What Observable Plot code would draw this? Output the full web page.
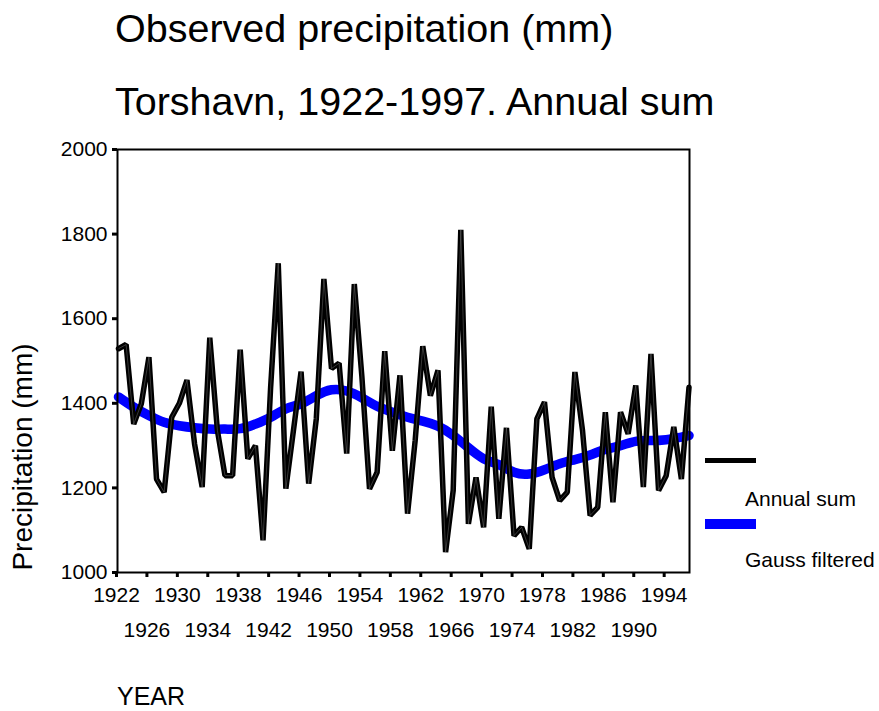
<!DOCTYPE html>
<html>
<head>
<meta charset="utf-8">
<script src="https://cdn.jsdelivr.net/npm/d3@7"></script>
<script src="https://cdn.jsdelivr.net/npm/@observablehq/plot@0.6"></script>
<style>
  html, body { margin: 0; padding: 0; background: white; }
  #chart { width: 879px; height: 711px; }
</style>
</head>
<body>
<div id="chart"></div>
<script>
const titleText = "Observed precipitation (mm)";
const subtitleText = "Torshavn, 1922-1997. Annual sum";
const yLabel = "Precipitation (mm)";
const xLabel = "YEAR";
const legendLabels = ["Annual sum", "Gauss filtered"];

const years = [1922,1923,1924,1925,1926,1927,1928,1929,1930,1931,1932,1933,1934,1935,1936,1937,1938,1939,1940,1941,
  1942,1943,1944,1945,1946,1947,1948,1949,1950,1951,1952,1953,1954,1955,1956,1957,1958,1959,1960,1961,
  1962,1963,1964,1965,1966,1967,1968,1969,1970,1971,1972,1973,1974,1975,1976,1977,1978,1979,1980,1981,
  1982,1983,1984,1985,1986,1987,1988,1989,1990,1991,1992,1993,1994,1995,1996,1997];
const annualSum = [1529,1539,1351,1399,1509,1221,1190,1367,1400,1455,1304,1202,1555,1336,1229,1229,1527,1269,1300,1076,
  1438,1731,1198,1336,1475,1210,1363,1694,1482,1495,1281,1682,1462,1198,1237,1523,1288,1466,1139,1312,
  1535,1418,1478,1048,1194,1810,1115,1225,1107,1392,1127,1342,1087,1107,1056,1363,1403,1225,1170,1190,
  1474,1336,1135,1154,1379,1166,1379,1328,1442,1202,1517,1194,1229,1344,1221,1438];

const gaussYears = [1922,1924,1926,1928,1930,1932,1934,1936,1938,1940,1942,1944,1946,1948,1950,1952,1954,1956,1958,1960,
  1962,1964,1966,1968,1970,1972,1974,1976,1978,1980,1982,1984,1986,1988,1990,1992,1994,1996,1997];
const gaussValues = [1415,1391,1371,1355,1347,1342,1339,1339,1340,1351,1367,1387,1399,1418,1432,1429,1413,1393,1379,1367,
  1358,1346,1324,1295,1269,1255,1237,1233,1243,1257,1267,1278,1291,1300,1310,1312,1314,1320,1324];

const yTicks = [1000,1200,1400,1600,1800,2000];
const xTicksRow1 = [1922,1930,1938,1946,1954,1962,1970,1978,1986,1994];
const xTicksRow2 = [1926,1934,1942,1950,1958,1966,1974,1982,1990];

const annualRows = years.map((yr, i) => ({year: yr, value: annualSum[i]}));
const gaussRows = gaussYears.map((yr, i) => ({year: yr, value: gaussValues[i]}));

const fmt = d => String(d);

const chart = Plot.plot({
  width: 879,
  height: 711,
  marginLeft: 117,
  marginRight: 190,
  marginTop: 149,
  marginBottom: 139,
  style: {fontFamily: "'Liberation Sans', Arial, Helvetica, sans-serif", fontSize: "21px", color: "black", background: "white"},
  x: {type: "linear", domain: [1922, 1997], range: [118, 688.5], axis: null, label: null},
  y: {type: "linear", domain: [1000, 2000], range: [572, 149], axis: null, label: null},
  marks: [
    Plot.line(gaussRows, {x: "year", y: "value", curve: "natural", stroke: "#0000ff", strokeWidth: 9.5}),
    Plot.line(annualRows, {x: "year", y: "value", stroke: "black", strokeWidth: 5.5, strokeLinejoin: "miter"}),
    Plot.line(annualRows, {x: "year", y: "value", stroke: "#999999", strokeWidth: 0.8, strokeOpacity: 0.45}),
    Plot.frame({stroke: "black", strokeWidth: 2}),
    Plot.axisY({ticks: yTicks, tickSize: 5, tickPadding: 5, strokeWidth: 3, fontSize: 21, tickFormat: fmt, label: null}),
    Plot.axisX({ticks: xTicksRow1, tickSize: 5, tickPadding: 10, strokeWidth: 3, fontSize: 21, tickFormat: fmt, dx: -2, label: null}),
    Plot.axisX({ticks: xTicksRow2, tickSize: 5, tickPadding: 45, strokeWidth: 3, fontSize: 21, tickFormat: fmt, dx: -2, label: null})
  ]
});

const svg = d3.select(chart);
const addText = (x, y, size, str, anchor = "start") =>
  svg.append("text").attr("x", x).attr("y", y).attr("font-size", size)
    .attr("text-anchor", anchor).attr("fill", "black").text(str);

addText(115, 42, 39.5, titleText);
addText(115, 115, 39.5, subtitleText);
svg.append("text").attr("transform", "translate(31.5,457) rotate(-90)").attr("text-anchor", "middle")
  .attr("font-size", 28).attr("fill", "black").text(yLabel);
addText(117, 705, 25, xLabel);

// legend
svg.append("line").attr("x1", 705).attr("x2", 756).attr("y1", 460.5).attr("y2", 460.5)
  .attr("stroke", "black").attr("stroke-width", 5);
addText(745, 506, 21, legendLabels[0]);
svg.append("line").attr("x1", 705).attr("x2", 756).attr("y1", 524).attr("y2", 524)
  .attr("stroke", "#0000ff").attr("stroke-width", 10);
addText(745, 567, 21, legendLabels[1]);

document.getElementById("chart").appendChild(chart);
</script>
</body>
</html>
